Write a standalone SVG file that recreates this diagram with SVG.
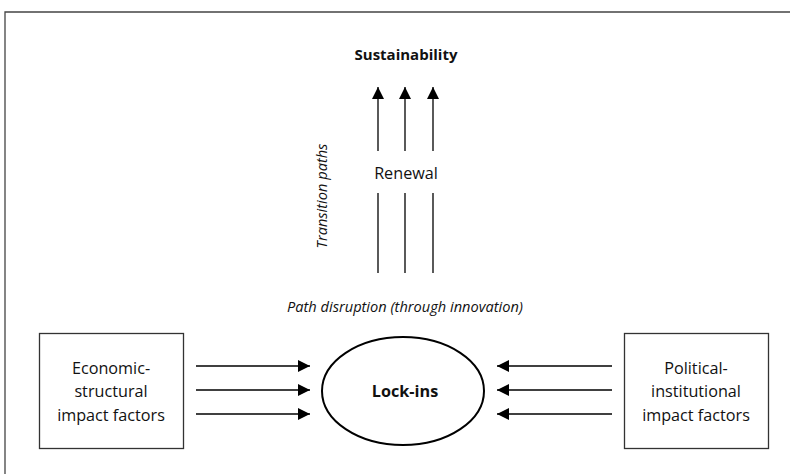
<svg xmlns="http://www.w3.org/2000/svg" width="790" height="474" viewBox="0 0 790 474">
  <defs>
    <marker id="arrowBig" viewBox="0 0 12 12" refX="12" refY="6" markerWidth="12" markerHeight="12" markerUnits="userSpaceOnUse" orient="auto">
      <path d="M0,0 L12,6 L0,12 Z" fill="#000"/>
    </marker>
  </defs>
  <style>
    text { font-family: "Open Sans", "Liberation Sans", sans-serif; fill: #111; }
    .lbl { font-size: 16.2px; text-anchor: middle; }
    .bold { font-weight: bold; }
    .sus { font-size: 15px; }
    .ital { font-style: italic; font-size: 14.6px; text-anchor: middle; }
    .box { fill: #fff; stroke: #333; stroke-width: 1.3; }
    .conn line { stroke: #000; stroke-width: 1.3; }
  </style>
  <rect width="790" height="474" fill="#fff"/>
  <!-- outer frame -->
  <path d="M5,480 L5,12 L800,12" fill="none" stroke="#444" stroke-width="1.3"/>

  <g id="sustainability">
    <text class="lbl bold sus" x="406" y="60">Sustainability</text>
  </g>
  <g id="renewal">
    <text class="lbl" x="406" y="179">Renewal</text>
  </g>
  <g id="transition-paths">
    <text class="ital" transform="translate(327,196) rotate(-90)">Transition paths</text>
  </g>
  <g id="path-disruption">
    <text class="ital" x="405" y="312">Path disruption (through innovation)</text>
  </g>

  <g id="economic">
    <rect class="box" x="39.5" y="333.5" width="144" height="115"/>
    <text class="lbl" x="111" y="374">Economic-</text>
    <text class="lbl" x="111" y="397">structural</text>
    <text class="lbl" x="111" y="421">impact factors</text>
  </g>
  <g id="political">
    <rect class="box" x="624.5" y="333.5" width="144" height="115"/>
    <text class="lbl" x="696" y="374">Political-</text>
    <text class="lbl" x="696" y="397">institutional</text>
    <text class="lbl" x="696" y="421">impact factors</text>
  </g>
  <g id="lockins">
    <ellipse cx="403" cy="391" rx="81" ry="54" fill="#fff" stroke="#000" stroke-width="2"/>
    <text class="lbl bold" x="405" y="397">Lock-ins</text>
  </g>

  <g class="conn" id="connectors">
    <line x1="378" y1="151" x2="378" y2="87" marker-end="url(#arrowBig)"/>
    <line x1="405" y1="151" x2="405" y2="87" marker-end="url(#arrowBig)"/>
    <line x1="433" y1="151" x2="433" y2="87" marker-end="url(#arrowBig)"/>
    <line x1="378" y1="193" x2="378" y2="273"/>
    <line x1="405" y1="193" x2="405" y2="273"/>
    <line x1="433" y1="193" x2="433" y2="273"/>

    <line x1="196" y1="366" x2="310" y2="366" marker-end="url(#arrowBig)"/>
    <line x1="196" y1="390" x2="310" y2="390" marker-end="url(#arrowBig)"/>
    <line x1="196" y1="414" x2="310" y2="414" marker-end="url(#arrowBig)"/>
    <line x1="612" y1="366" x2="497" y2="366" marker-end="url(#arrowBig)"/>
    <line x1="612" y1="390" x2="497" y2="390" marker-end="url(#arrowBig)"/>
    <line x1="612" y1="414" x2="497" y2="414" marker-end="url(#arrowBig)"/>
  </g>
</svg>
